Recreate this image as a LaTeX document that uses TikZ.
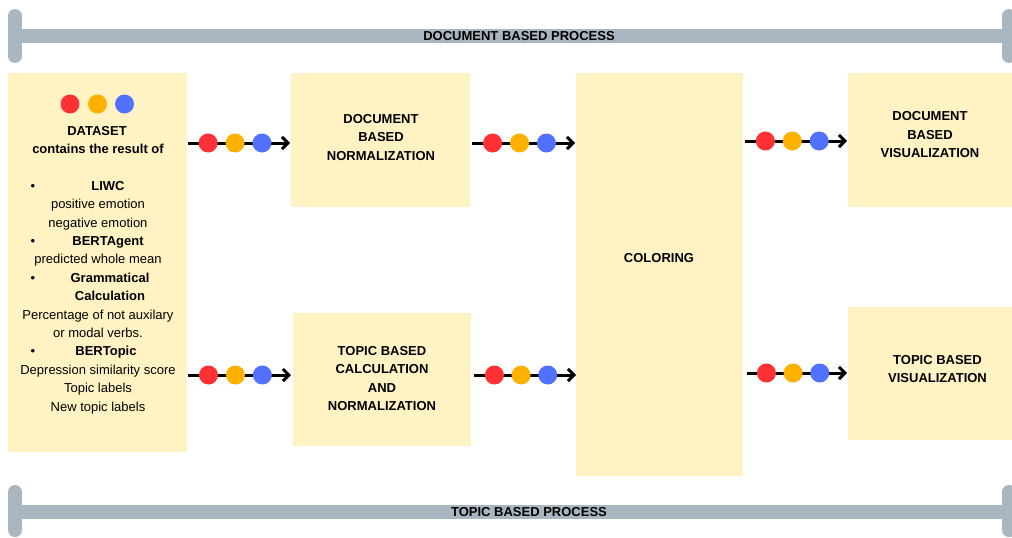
\documentclass[tikz,border=0pt]{standalone}
\usepackage{fontspec}
\setmainfont{Liberation Sans}
\usetikzlibrary{arrows.meta}
\definecolor{boxy}{RGB}{255,243,196}
\definecolor{bargray}{RGB}{170,182,191}
\definecolor{dred}{RGB}{255,49,52}
\definecolor{dorange}{RGB}{255,177,0}
\definecolor{dblue}{RGB}{82,113,255}
\tikzset{
  box/.style={fill=boxy, draw=none, inner sep=0pt, anchor=north west},
  lbl/.style={font=\fontsize{13}{18.4}\selectfont\bfseries, align=center, inner sep=0pt},
  txt/.style={font=\fontsize{13}{18.4}\selectfont, inner sep=0pt, anchor=base},
  btxt/.style={font=\fontsize{13}{18.4}\selectfont\bfseries, inner sep=0pt, anchor=base},
  bar/.style={draw=bargray, line width=14pt},
  barcap/.style={draw=bargray, line width=14pt, line cap=round},
  link/.style={draw=black, line width=3pt, -{Straight Barb[length=6pt,width=12pt,line width=3pt]}},
  dot/.style={circle, fill=#1, draw=none, inner sep=0pt, minimum size=19pt},
}
\begin{document}
\begin{tikzpicture}[x=1pt,y=-1pt]
\useasboundingbox (0,0) rectangle (1012,538);
% process bars
\draw[bar] (15,36) -- (1009,36);
\draw[barcap] (15,16) -- (15,56);
\draw[barcap] (1009,16) -- (1009,56);
\node[font=\fontsize{13}{15}\selectfont\bfseries, inner sep=0pt] (topbar) at (519,36) {DOCUMENT BASED PROCESS};
\draw[bar] (15,512) -- (1009,512);
\draw[barcap] (15,492) -- (15,530);
\draw[barcap] (1009,492) -- (1009,530);
\node[font=\fontsize{13}{15}\selectfont\bfseries, inner sep=0pt] (botbar) at (529,512) {TOPIC BASED PROCESS};
% boxes
\node[box, minimum width=179pt, minimum height=379pt] (ds) at (8,73) {};
\node[box, minimum width=179pt, minimum height=134pt] (dn) at (291,73) {};
\node[box, minimum width=178pt, minimum height=133pt] (tc) at (293,313) {};
\node[box, minimum width=167pt, minimum height=403pt] (col) at (576,73) {};
\node[box, minimum width=164pt, minimum height=134pt] (dv) at (848,73) {};
\node[box, minimum width=164pt, minimum height=133pt] (tv) at (848,307) {};
% labels
\node[lbl] (dnl) at (381,137.5) {DOCUMENT\\BASED\\NORMALIZATION};
\node[lbl] (tcl) at (382,378.6) {TOPIC BASED\\CALCULATION\\AND\\NORMALIZATION};
\node[lbl] (coll) at (659,258) {COLORING};
\node[lbl] (dvl) at (930,134.8) {DOCUMENT\\BASED\\VISUALIZATION};
\node[lbl] (tvl) at (937.5,369) {TOPIC BASED\\VISUALIZATION};
% dataset content
\node[dot=dred] (d1) at (70,104) {};
\node[dot=dorange] (d2) at (97.5,104) {};
\node[dot=dblue] (d3) at (124.5,104) {};
\node[btxt] (l1) at (97,135) {DATASET};
\node[btxt] (l2) at (98,153.4) {contains the result of};
\node[btxt] (l3) at (108,190.2) {LIWC};
\node[txt] (l4) at (98,208.6) {positive emotion};
\node[txt] (l5) at (98,227) {negative emotion};
\node[btxt] (l6) at (108,245.4) {BERTAgent};
\node[txt] (l7) at (98,263.8) {predicted whole mean};
\node[btxt] (l8) at (110,282.2) {Grammatical};
\node[btxt] (l9) at (110,300.6) {Calculation};
\node[txt] (l10) at (98,319) {Percentage of not auxilary};
\node[txt] (l11) at (98,337.4) {or modal verbs.};
\node[btxt] (l12) at (106,355.8) {BERTopic};
\node[txt] (l13) at (98,374.2) {Depression similarity score};
\node[txt] (l14) at (98,392.6) {Topic labels};
\node[txt] (l15) at (98,411) {New topic labels};
\node[txt] (b1) at (33,190.2) {\textbullet};
\node[txt] (b2) at (33,245.4) {\textbullet};
\node[txt] (b3) at (33,282.2) {\textbullet};
\node[txt] (b4) at (33,355.8) {\textbullet};
% connectors
\draw[link, shorten <=1pt, shorten >=1pt] (ds.east |- 0,143) -- (dn.west |- 0,143)
  node[dot=dred, pos=0.2] (c1a) {} node[dot=dorange, pos=0.46] (c1b) {} node[dot=dblue, pos=0.72] (c1c) {};
\draw[link, shorten <=2pt, shorten >=1pt] (dn.east |- 0,143) -- (col.west |- 0,143)
  node[dot=dred, pos=0.21] (c2a) {} node[dot=dorange, pos=0.465] (c2b) {} node[dot=dblue, pos=0.72] (c2c) {};
\draw[link, shorten <=1pt, shorten >=2pt] (ds.east |- 0,375) -- (tc.west |- 0,375)
  node[dot=dred, pos=0.2] (c3a) {} node[dot=dorange, pos=0.455] (c3b) {} node[dot=dblue, pos=0.71] (c3c) {};
\draw[link, shorten <=3pt] (tc.east |- 0,375) -- (col.west |- 0,375)
  node[dot=dred, pos=0.22] (c4a) {} node[dot=dorange, pos=0.475] (c4b) {} node[dot=dblue, pos=0.73] (c4c) {};
\draw[link, shorten <=2pt, shorten >=1pt] (col.east |- 0,141) -- (dv.west |- 0,141)
  node[dot=dred, pos=0.21] (c5a) {} node[dot=dorange, pos=0.467] (c5b) {} node[dot=dblue, pos=0.724] (c5c) {};
\draw[link, shorten <=4pt, shorten >=1pt] (col.east |- 0,373) -- (tv.west |- 0,373)
  node[dot=dred, pos=0.22] (c6a) {} node[dot=dorange, pos=0.475] (c6b) {} node[dot=dblue, pos=0.73] (c6c) {};
\end{tikzpicture}
\end{document}
